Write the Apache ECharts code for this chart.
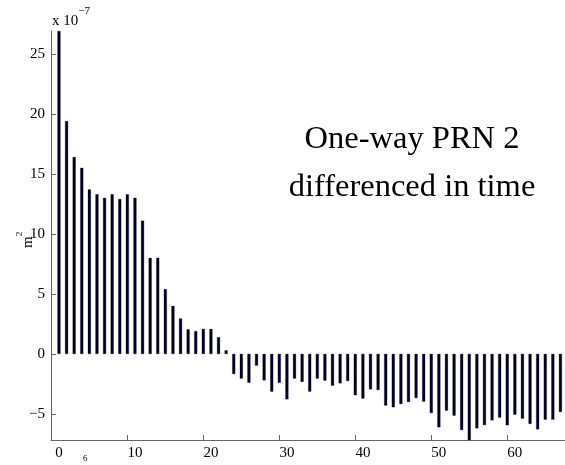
<!DOCTYPE html>
<html>
<head>
<meta charset="utf-8">
<script src="https://cdn.jsdelivr.net/npm/echarts@6/dist/echarts.min.js"></script>
<style>html,body{margin:0;padding:0;background:#fff}#c{width:565px;height:465px}</style>
</head>
<body>
<div id="c"></div>
<script>
var lags = [];
for (var i = 0; i <= 66; i++) lags.push(i);
var values = [
  26.9, 19.4, 16.4, 15.5, 13.7, 13.3, 13.0, 13.3, 12.9, 13.3,
  13.0, 11.1, 8.0, 8.0, 5.4, 4.0, 2.95, 2.05, 1.9, 2.08,
  2.08, 1.4, 0.3, -1.67, -2.05, -2.4, -0.97, -2.2, -3.14, -2.4,
  -3.78, -2.05, -2.33, -3.14, -2.05, -2.22, -2.64, -2.45, -2.25, -3.44,
  -3.72, -2.95, -3.0, -4.3, -4.44, -4.17, -4.0, -3.67, -3.97, -4.92,
  -6.11, -4.72, -5.14, -6.33, -7.6, -6.2, -5.92, -5.53, -5.3, -5.94,
  -5.06, -5.39, -5.83, -6.28, -5.47, -5.47, -4.83
];
var xTicks = [0, 10, 20, 30, 40, 50, 60];
var yTicks = [-5, 0, 5, 10, 15, 20, 25];
var annotation = ['One-way PRN 2', 'differenced in time'];

var chart = echarts.init(document.getElementById('c'));
var font = 'Liberation Serif';
chart.setOption({
  animation: false,
  grid: {left: 51, right: -2, top: 31, bottom: 25, containLabel: false},
  xAxis: {
    type: 'value', min: -1.05, max: 66.6, interval: 10,
    axisLine: {show: true, onZero: false, lineStyle: {color: '#666', width: 1}},
    axisTick: {show: true, inside: true, length: 5, lineStyle: {color: '#666'}},
    axisLabel: {
      fontFamily: font, fontSize: 15, color: '#000', margin: 6,
      customValues: xTicks
    },
    splitLine: {show: false}
  },
  yAxis: {
    type: 'value', min: -7.17, max: 26.9,
    axisLine: {show: true, onZero: false, lineStyle: {color: '#666', width: 1}},
    axisTick: {show: true, inside: true, length: 5, lineStyle: {color: '#666'}, customValues: yTicks},
    axisLabel: {
      fontFamily: font, fontSize: 15, color: '#000', margin: 6,
      customValues: yTicks,
      formatter: function (v) { return v < 0 ? '\u2212' + Math.abs(v) : String(v); }
    },
    splitLine: {show: false}
  },
  series: [{
    type: 'bar',
    barWidth: 3,
    clip: true,
    itemStyle: {color: '#00002a', borderColor: '#000', borderWidth: 0.3},
    data: lags.map(function (x, i) { return [x, values[i]]; })
  }],
  graphic: [
    {type: 'text', left: 52, top: 6, style: {
      text: '{a|x 10}{s|\u22127}', rich: {
        a: {fontFamily: font, fontSize: 15, fill: '#000', padding: [8, 0, 0, 0]},
        s: {fontFamily: font, fontSize: 11, fill: '#000', verticalAlign: 'top'}
      }}},
    {type: 'text', x: 15, y: 248, rotation: Math.PI / 2, style: {
      text: '{a|m}{s|2}', rich: {
        a: {fontFamily: font, fontSize: 15, fill: '#000', padding: [6, 0, 0, 0]},
        s: {fontFamily: font, fontSize: 9, fill: '#000', verticalAlign: 'top'}
      }}},
    {type: 'text', x: 412, y: 139, style: {
      text: annotation[0], fontFamily: font, fontSize: 32.5, fill: '#000',
      align: 'center', verticalAlign: 'middle'}},
    {type: 'text', x: 412, y: 187, style: {
      text: annotation[1], fontFamily: font, fontSize: 32.5, fill: '#000',
      align: 'center', verticalAlign: 'middle'}},
    {type: 'text', x: 83, y: 454, style: {
      text: '6', fontFamily: font, fontSize: 9, fill: '#000'}}
  ]
});
</script>
</body>
</html>
